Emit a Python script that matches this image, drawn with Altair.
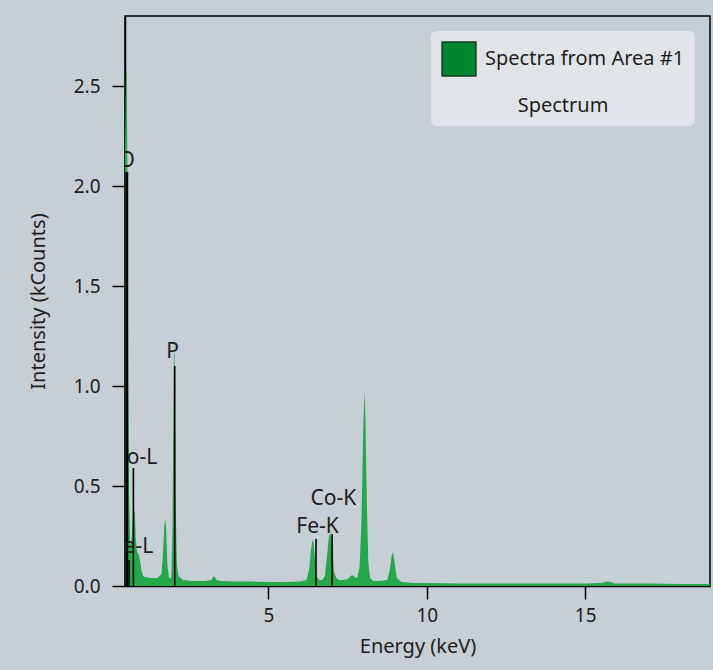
import altair as alt
import pandas as pd

# ---- spectrum ----
energy = [0.47, 0.50, 0.52, 0.545, 0.57, 0.60, 0.63, 0.66, 0.69, 0.72, 0.75, 0.78, 0.81, 0.85,
          0.90, 0.95, 1.00, 1.04, 1.10, 1.30, 1.50, 1.62, 1.67, 1.71, 1.74, 1.77, 1.81, 1.86,
          1.93, 1.97, 2.00, 2.02, 2.04, 2.07, 2.11, 2.16, 2.30, 2.60, 3.00, 3.20, 3.28, 3.36,
          3.50, 4.00, 4.50, 5.00, 5.50, 6.00, 6.20, 6.28, 6.34, 6.39, 6.42, 6.46, 6.52, 6.60,
          6.70, 6.78, 6.85, 6.91, 6.96, 7.01, 7.07, 7.14, 7.22, 7.35, 7.50, 7.60, 7.65, 7.71,
          7.80, 7.88, 7.94, 7.99, 8.03, 8.06, 8.10, 8.15, 8.21, 8.30, 8.50, 8.75, 8.83, 8.89,
          8.93, 8.98, 9.05, 9.20, 9.60, 10.0, 11.0, 12.0, 13.0, 14.0, 15.0, 15.5, 15.7, 15.8,
          15.95, 16.5, 17.0, 18.0, 18.94]
counts = [2.20, 2.55, 2.60, 2.10, 1.10, 0.45, 0.22, 0.20, 0.26, 0.34, 0.39, 0.36, 0.24, 0.17,
          0.16, 0.12, 0.07, 0.05, 0.045, 0.04, 0.04, 0.06, 0.16, 0.30, 0.34, 0.28, 0.10, 0.04,
          0.04, 0.30, 0.95, 1.25, 1.05, 0.40, 0.10, 0.05, 0.03, 0.025, 0.025, 0.03, 0.05, 0.03,
          0.025, 0.022, 0.022, 0.02, 0.02, 0.022, 0.03, 0.08, 0.18, 0.23, 0.22, 0.15, 0.05, 0.03,
          0.03, 0.05, 0.15, 0.25, 0.265, 0.20, 0.07, 0.04, 0.03, 0.03, 0.035, 0.05, 0.055, 0.045,
          0.04, 0.10, 0.35, 0.78, 0.97, 0.85, 0.45, 0.12, 0.04, 0.025, 0.025, 0.03, 0.08, 0.15,
          0.17, 0.12, 0.04, 0.02, 0.015, 0.015, 0.013, 0.012, 0.012, 0.012, 0.012, 0.015, 0.022, 0.02,
          0.013, 0.012, 0.012, 0.01, 0.01]

# ---- element markers ----
marker_names = ["O", "Fe-L", "Co-L", "P", "Fe-K", "Co-K"]
marker_energy = [0.525, 0.60, 0.735, 2.04, 6.50, 7.01]
marker_height = [2.07, 0.13, 0.59, 1.10, 0.235, 0.26]
label_energy = [0.525, 0.72, 0.80, 1.97, 6.55, 7.05]
label_y = [2.125, 0.195, 0.64, 1.17, 0.295, 0.435]

series_name = ["Spectra from Area #1"]

spec = pd.DataFrame({"energy": energy, "counts": counts})
marks = pd.DataFrame({"name": marker_names, "e": marker_energy, "h": marker_height,
                      "le": label_energy, "ly": label_y})
legend_df = pd.DataFrame({"series": series_name})

FONT = "Noto Sans"
BG = "#c6ced6"
TXT = "#1e1e1e"
xscale = alt.Scale(domain=[0.47, 18.94], nice=False, zero=False)
yscale = alt.Scale(domain=[0, 2.85], nice=False)

xaxis = alt.Axis(title="Energy (keV)", values=[5, 10, 15], format="d", grid=False)
yaxis = alt.Axis(title="Intensity (kCounts)", values=[0, 0.5, 1.0, 1.5, 2.0, 2.5],
                 format=".1f", grid=False)

area = alt.Chart(spec).mark_area(color="#25a84a", clip=True, interpolate="linear").encode(
    x=alt.X("energy:Q", scale=xscale, axis=xaxis),
    y=alt.Y("counts:Q", scale=yscale, axis=yaxis),
)

rules = alt.Chart(marks).mark_rule(color="black", clip=True).encode(
    x=alt.X("e:Q", scale=xscale),
    y=alt.Y("h:Q", scale=yscale),
    y2=alt.datum(0),
    strokeWidth=alt.condition(alt.datum.name == "O", alt.value(3), alt.value(1.6)),
)

labels = alt.Chart(marks).mark_text(font=FONT, fontSize=21, color=TXT,
                                     align="center", baseline="middle", clip=True).encode(
    x=alt.X("le:Q", scale=xscale),
    y=alt.Y("ly:Q", scale=yscale),
    text="name:N",
)

leg = alt.Chart(legend_df).mark_point(shape="square", filled=True, opacity=0, size=0).encode(
    color=alt.Color("series:N",
                    scale=alt.Scale(domain=series_name, range=["#00862d"]),
                    legend=alt.Legend(title="Spectrum", titleOrient="bottom",
                                      titleAnchor="middle", orient="top-right", offset=15,
                                      fillColor="#e0e4e9", cornerRadius=6,
                                      padding=10,
                                      symbolType="square", symbolSize=1150,
                                      symbolStrokeColor="#1b3d25", symbolStrokeWidth=1.5,
                                      symbolOpacity=1, labelLimit=0,
                                      labelFont=FONT, labelFontSize=20, labelColor=TXT,
                                      labelOffset=8, titleFont=FONT, titleFontSize=20,
                                      titleFontWeight="normal", titleColor=TXT,
                                      titlePadding=17)),
)

chart = alt.layer(area, rules, labels, leg).properties(
    width=585, height=570,
    autosize=alt.AutoSizeParams(type="none"),
    padding={"left": 125, "top": 16, "right": 3, "bottom": 84},
    background=BG,
).configure_view(
    fill=BG, stroke="black", strokeWidth=1.5,
).configure_axis(
    domainColor="black", domainWidth=1.5, tickColor="black", tickWidth=1.5, tickSize=13,
    labelFont=FONT, labelFontSize=19, labelColor=TXT,
    titleFont=FONT, titleFontSize=20, titleFontWeight="normal", titleColor=TXT,
).configure_axisY(labelPadding=12, titlePadding=25).configure_axisX(labelPadding=7, titlePadding=11)

chart.save("out.html", embed_options={"renderer": "svg", "actions": False})
